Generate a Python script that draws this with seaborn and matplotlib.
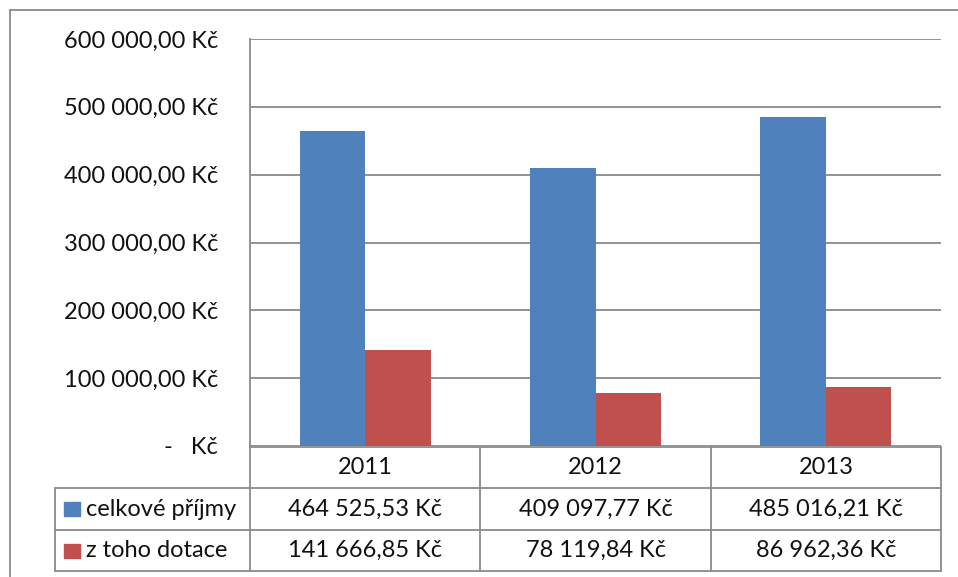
import matplotlib
matplotlib.use("Agg")
import matplotlib.pyplot as plt
from matplotlib.lines import Line2D
from matplotlib.patches import Rectangle
import seaborn as sns
import pandas as pd

# ---- data ----
years = ["2011", "2012", "2013"]
series_names = ["celkové příjmy", "z toho dotace"]
celkove_prijmy = [464525.53, 409097.77, 485016.21]
z_toho_dotace = [141666.85, 78119.84, 86962.36]
y_ticks = [0, 100000, 200000, 300000, 400000, 500000, 600000]
colors = ["#4F81BD", "#C0504D"]

df = pd.DataFrame({
    "rok": years * 2,
    "řada": [series_names[0]] * 3 + [series_names[1]] * 3,
    "hodnota": celkove_prijmy + z_toho_dotace,
})

sns.set_theme(style="white")
plt.rcParams["font.family"] = ["Lato", "DejaVu Sans"]

W, H = 958, 577
fig = plt.figure(figsize=(W / 100, H / 100), dpi=100)

def fx(x):
    return x / W

def fy(y):
    return 1 - y / H

L, R, T, B = 250, 941, 39, 446
ax = fig.add_axes([fx(L), fy(B), (R - L) / W, (B - T) / H])

sns.barplot(data=df, x="rok", y="hodnota", hue="řada", palette=colors,
            width=0.57, gap=0, saturation=1, ax=ax, legend=False,
            edgecolor="none", linewidth=0)

def fmt(v):
    s = f"{v:,.2f}".replace(",", " ").replace(".", ",")
    return s + " Kč"

fs = 17
tc = "#111111"

ax.set_ylim(0, 600000)
ax.set_xlim(-0.5, 2.5)
ax.set_yticks(y_ticks)
ax.set_yticklabels(["-   Kč" if v == 0 else fmt(v) for v in y_ticks])
ax.tick_params(axis="y", length=0, pad=23, labelsize=fs, labelcolor=tc)
ax.set_xticks([])
ax.set_xlabel("")
ax.set_ylabel("")
grid_c = "#8A8A8A"
ax.yaxis.grid(True, color=grid_c, linewidth=1.3)
ax.set_axisbelow(True)
for s in ["top", "right", "bottom"]:
    ax.spines[s].set_visible(False)
ax.spines["left"].set_color(grid_c)
ax.spines["left"].set_linewidth(1.3)

# ---- frame ----
def hline(y, x0, x1, lw=1.3):
    fig.add_artist(Line2D([fx(x0), fx(x1)], [fy(y), fy(y)], color=grid_c, lw=lw,
                          transform=fig.transFigure))

def vline(x, y0, y1, lw=1.3):
    fig.add_artist(Line2D([fx(x), fx(x)], [fy(y0), fy(y1)], color=grid_c, lw=lw,
                          transform=fig.transFigure))

hline(10, 10, W)
vline(10, 10, H)

# ---- data table ----
col_x = [250, 480, 711, 941]
row_y = [447, 488, 530, 571]
legend_x = 55
hline(row_y[0], col_x[0], col_x[-1])
hline(row_y[1], legend_x, col_x[-1])
hline(row_y[2], legend_x, col_x[-1])
hline(row_y[3], legend_x, col_x[-1])
for x in col_x:
    vline(x, row_y[0], row_y[3])
vline(legend_x, row_y[1], row_y[3])

for i, yr in enumerate(years):
    cx = (col_x[i] + col_x[i + 1]) / 2
    fig.text(fx(cx), fy((row_y[0] + row_y[1]) / 2), yr, ha="center", va="center",
             fontsize=fs, color=tc)
    fig.text(fx(cx), fy((row_y[1] + row_y[2]) / 2), fmt(celkove_prijmy[i]),
             ha="center", va="center", fontsize=fs, color=tc)
    fig.text(fx(cx), fy((row_y[2] + row_y[3]) / 2), fmt(z_toho_dotace[i]),
             ha="center", va="center", fontsize=fs, color=tc)

for j, name in enumerate(series_names):
    cy = (row_y[1 + j] + row_y[2 + j]) / 2
    fig.add_artist(Rectangle((fx(64), fy(cy + 7)), 16 / W, 14 / H, color=colors[j],
                             transform=fig.transFigure))
    fig.text(fx(86), fy(cy), name, ha="left", va="center", fontsize=fs, color=tc)

fig.savefig("out.png", dpi=100)
